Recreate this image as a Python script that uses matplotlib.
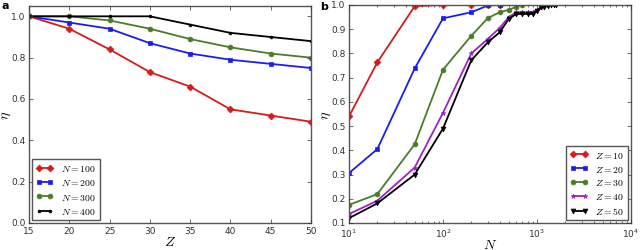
import matplotlib
matplotlib.use('Agg')
import matplotlib.pyplot as plt

# panel a: eta vs Z for several N
z_vals = [15, 20, 25, 30, 35, 40, 45, 50]
eta_n100 = [1.0, 0.94, 0.84, 0.73, 0.66, 0.55, 0.52, 0.49]
eta_n200 = [1.0, 0.97, 0.94, 0.87, 0.82, 0.79, 0.77, 0.75]
eta_n300 = [1.0, 1.0, 0.98, 0.94, 0.89, 0.85, 0.82, 0.80]
eta_n400 = [1.0, 1.0, 1.0, 1.0, 0.96, 0.92, 0.90, 0.88]

# panel b: eta vs N for several Z
n_z10 = [10, 20, 50, 100, 200, 300, 400]
eta_z10 = [0.54, 0.763, 0.995, 1.0, 1.0, 1.0, 1.0]
n_z20 = [10, 20, 50, 100, 200, 300, 400]
eta_z20 = [0.306, 0.405, 0.738, 0.945, 0.97, 0.998, 1.0]
n_z30 = [10, 20, 50, 100, 200, 300, 400, 500, 600, 700]
eta_z30 = [0.175, 0.219, 0.425, 0.733, 0.873, 0.946, 0.97, 0.98, 0.993, 1.0]
n_z40 = [10, 20, 50, 100, 200, 300, 400, 500, 600, 700, 800, 900, 1000, 1100, 1200]
eta_z40 = [0.137, 0.192, 0.329, 0.555, 0.80, 0.86, 0.905, 0.95, 0.97, 0.97, 0.97, 0.97, 0.98, 0.99, 1.0]
n_z50 = [10, 20, 50, 100, 200, 300, 400, 500, 600, 700, 800, 900, 1000, 1100, 1200, 1300, 1400, 1500, 1600]
eta_z50 = [0.12, 0.181, 0.30, 0.49, 0.772, 0.846, 0.887, 0.942, 0.963, 0.963, 0.963, 0.963, 0.975, 0.99, 0.993, 0.995, 1.0, 1.0, 1.0]

plt.style.use('classic')
plt.rcParams['mathtext.fontset'] = 'cm'
plt.rcParams['figure.facecolor'] = 'white'
plt.rcParams['savefig.facecolor'] = 'white'
plt.rcParams['xtick.labelsize'] = 6.5
plt.rcParams['ytick.labelsize'] = 6.5
plt.rcParams['xtick.major.pad'] = 2.5
plt.rcParams['ytick.major.pad'] = 2.5
plt.rcParams['xtick.major.size'] = 3
plt.rcParams['ytick.major.size'] = 3
plt.rcParams['xtick.minor.size'] = 1.5
plt.rcParams['ytick.minor.size'] = 1.5
plt.rcParams['axes.edgecolor'] = '#555555'
plt.rcParams['xtick.color'] = '#333333'
plt.rcParams['ytick.color'] = '#333333'

red = '#d41c1c'
blue = '#1c1cf0'
green = '#4a7d2a'
purple = '#a020c8'

fig = plt.figure(figsize=(6.4, 2.51), dpi=100)
ax1 = fig.add_axes([29/640, 27/251, 282/640, 217/251])
ax2 = fig.add_axes([349/640, 27/251, 282/640, 218/251])

lw = 1.3
ax1.plot(z_vals, eta_n100, color=red, marker='D', ms=3.5, mec=red, lw=lw, label='$N=100$')
ax1.plot(z_vals, eta_n200, color=blue, marker='s', ms=3.5, mec=blue, lw=lw, label='$N=200$')
ax1.plot(z_vals, eta_n300, color=green, marker='o', ms=3.5, mec=green, lw=lw, label='$N=300$')
ax1.plot(z_vals, eta_n400, color='black', marker='.', ms=4, mec='black', lw=lw, label='$N=400$')
ax1.set_xlim(15, 50)
ax1.set_ylim(0, 1.05)
ax1.set_yticks([0.0, 0.2, 0.4, 0.6, 0.8, 1.0])
ax1.set_xlabel('$Z$', fontsize=10, labelpad=-1)
ax1.set_ylabel('$\\eta$', fontsize=10)
ax1.yaxis.set_label_coords(-0.055, 0.5)
ax1.legend(loc='lower left', fontsize=7, numpoints=2, handlelength=1.8,
           borderaxespad=0.3, labelspacing=0.45, frameon=True)

ax2.plot(n_z10, eta_z10, color=red, marker='D', ms=3.5, mec=red, lw=lw, label='$Z=10$')
ax2.plot(n_z20, eta_z20, color=blue, marker='s', ms=3.5, mec=blue, lw=lw, label='$Z=20$')
ax2.plot(n_z30, eta_z30, color=green, marker='o', ms=3.5, mec=green, lw=lw, label='$Z=30$')
ax2.plot(n_z40, eta_z40, color=purple, marker='*', ms=3.5, mec=purple, lw=lw, label='$Z=40$')
ax2.plot(n_z50, eta_z50, color='black', marker='v', ms=3.5, mec='black', lw=lw, label='$Z=50$')
ax2.set_xscale('log')
ax2.set_xlim(10, 1e4)
ax2.set_ylim(0.1, 1.0)
ax2.set_yticks([0.1, 0.2, 0.3, 0.4, 0.5, 0.6, 0.7, 0.8, 0.9, 1.0])
ax2.set_xlabel('$N$', fontsize=10, labelpad=-1)
ax2.set_ylabel('$\\eta$', fontsize=10)
ax2.yaxis.set_label_coords(-0.055, 0.5)
ax2.legend(loc='lower right', fontsize=7, numpoints=2, handlelength=1.8,
           borderaxespad=0.3, labelspacing=0.4, frameon=True)

fig.text(2/640, 1 - 9/251, 'a', fontsize=8, fontweight='bold')
fig.text(320/640, 1 - 10/251, 'b', fontsize=8, fontweight='bold')

fig.savefig('out.png', dpi=100)
